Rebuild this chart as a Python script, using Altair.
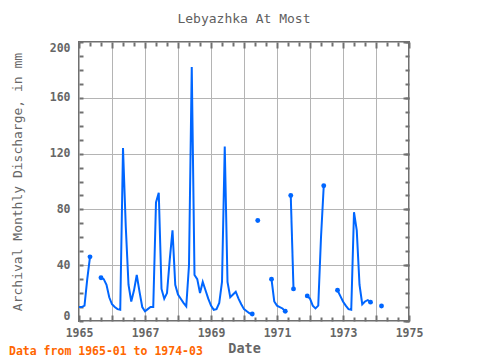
import altair as alt
import pandas as pd

# ---- data (monthly, 1965-01 .. 1974-03; None = missing) ----
v1965 = [10, 10, 11, 30, 46, None, None, None, 31, 30, 26, 17]
v1966 = [12, 10, 8.5, 8, 124, 68, 26, 14, 22, 33, 21, 10]
v1967 = [7, 8.5, 10, 10, 85, 92, 23, 16, 20, 44, 65, 26]
v1968 = [19, 16, 13, 10.5, 40, 182, 33, 30, 20, 28, 22, 16]
v1969 = [11, 8, 8.5, 13, 28, 125, 28, 17, 19, 21, 16, 12]
v1970 = [8.5, 7, 5.5, 5, None, 72, None, None, None, None, 30, 14]
v1971 = [11, 10, 9, 7, None, 90, 23, None, None, None, None, 18]
v1972 = [16, 11, 9, 11, 60, 97, None, None, None, None, 22, 18]
v1973 = [14, 11, 8.5, 8, 78, 65, 26, 12, 14, 15, 13.5, None]
v1974 = [None, None, 10.7]
start_year = 1965

x_ticks = list(range(1965, 1976))
y_ticks = [0, 40, 80, 120, 160, 200]
y_minor = list(range(0, 201, 10))
x_minor = [y + k / 3 for y in range(1965, 1975) for k in (1, 2)]

title_text = "Lebyazhka At Most"
x_title = "Date"
y_title = "Archival Monthly Discharge, in mm"
footer = ["Data from 1965-01 to 1974-03"]

BLUE = "#0066ff"
GREY = "#666666"
GRID = "#b4b4b4"
FONT = "DejaVu Sans Mono"

values = v1965 + v1966 + v1967 + v1968 + v1969 + v1970 + v1971 + v1972 + v1973 + v1974

rows = []
seg = 0
for i, v in enumerate(values):
    if v is None:
        seg += 1
        continue
    prev_missing = i > 0 and values[i - 1] is None
    next_missing = i + 1 < len(values) and values[i + 1] is None
    rows.append({
        "t": start_year + i / 12.0,
        "value": v,
        "seg": seg,
        "dot": bool(prev_missing or next_missing or i == len(values) - 1),
    })
df = pd.DataFrame(rows)
df_dots = df[df["dot"]]

W, H = 330, 279
xs = alt.Scale(domain=[1965, 1975], nice=False, zero=False)
ys = alt.Scale(domain=[0, 200], nice=False)

def tick_axis(orient, vals, size):
    return alt.Axis(orient=orient, values=vals, tickSize=size, offset=-size,
                    labels=False, grid=False, domain=False, title=None,
                    tickColor="#707070", tickWidth=2)

main = alt.Chart(df).mark_line(color=BLUE, strokeWidth=2).encode(
    x=alt.X("t:Q", scale=xs, axis=alt.Axis(
        values=x_ticks, format="d",
        labelExpr="datum.value % 2 == 1 ? datum.label : ''",
        grid=True, gridColor=GRID, gridWidth=1, ticks=False, domain=False,
        labelFont=FONT, labelFontSize=11.5, labelFontWeight="bold", labelColor=GREY,
        labelPadding=6, labelFlush=False,
        title=x_title, titleFont=FONT, titleFontSize=13.5, titleFontWeight="bold",
        titleColor=GREY, titleX=165, titleY=27, titleBaseline="middle")),
    y=alt.Y("value:Q", scale=ys, axis=alt.Axis(
        values=y_ticks, grid=True, gridColor=GRID, gridWidth=1, ticks=False, domain=False,
        labelFont=FONT, labelFontSize=11.5, labelFontWeight="bold", labelColor=GREY,
        labelPadding=9, labelFlush=True,
        title=y_title, titleFont=FONT, titleFontSize=13, titleFontWeight="normal",
        titleColor=GREY, titleX=-62, titleY=H / 2, titleBaseline="middle")),
    detail="seg:N",
)

dots = alt.Chart(df_dots).mark_circle(color=BLUE, size=24, opacity=1).encode(
    x=alt.X("t:Q", scale=xs, axis=tick_axis("bottom", x_ticks, 6)),
    y=alt.Y("value:Q", scale=ys, axis=tick_axis("right", y_ticks, 6)),
)

ghost1 = alt.Chart(df).mark_point(opacity=0).encode(
    x=alt.X("t:Q", scale=xs, axis=tick_axis("bottom", x_minor, 4)),
    y=alt.Y("value:Q", scale=ys, axis=tick_axis("right", y_minor, 4)),
)
ghost2 = alt.Chart(df).mark_point(opacity=0).encode(
    x=alt.X("t:Q", scale=xs, axis=tick_axis("top", x_ticks, 6)),
    y=alt.Y("value:Q", scale=ys, axis=tick_axis("left", y_minor, 4)),
)
ghost3 = alt.Chart(df).mark_point(opacity=0).encode(
    x=alt.X("t:Q", scale=xs, axis=tick_axis("top", x_minor, 4)),
    y=alt.Y("value:Q", scale=ys, axis=None),
)

foot = alt.Chart(pd.DataFrame({"txt": footer})).mark_text(
    align="left", baseline="middle", font=FONT, fontSize=11.5, fontWeight="bold",
    color="#ff6600",
).encode(x=alt.value(-70), y=alt.value(310), text="txt:N")

chart = alt.layer(main, dots, ghost1, ghost2, ghost3, foot).resolve_axis(
    x="independent", y="independent"
).properties(
    width=W, height=H,
    title=alt.TitleParams(title_text, font=FONT, fontSize=13, fontWeight="normal",
                          color="#606060", anchor="middle", offset=15),
    autosize=alt.AutoSizeParams(type="none"),
    padding={"left": 71, "top": 34, "right": 63, "bottom": 50},
).configure_view(stroke="#707070", strokeWidth=2)

chart.save("out.html", embed_options={"renderer": "svg", "actions": False})
